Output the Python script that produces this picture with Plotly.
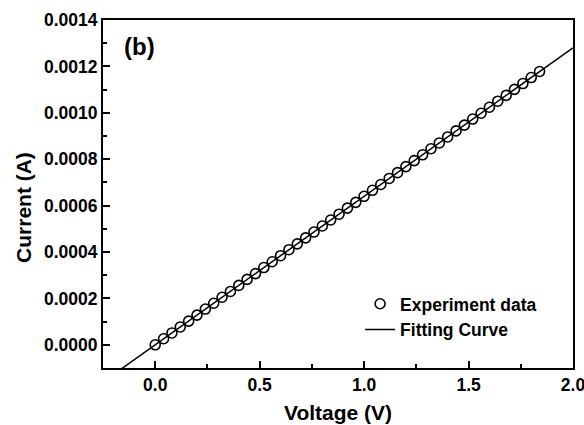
import plotly.graph_objects as go

# Experiment data
voltage = [0.00, 0.04, 0.08, 0.12, 0.16, 0.20, 0.24, 0.28, 0.32, 0.36,
           0.40, 0.44, 0.48, 0.52, 0.56, 0.60, 0.64, 0.68, 0.72, 0.76,
           0.80, 0.84, 0.88, 0.92, 0.96, 1.00, 1.04, 1.08, 1.12, 1.16,
           1.20, 1.24, 1.28, 1.32, 1.36, 1.40, 1.44, 1.48, 1.52, 1.56,
           1.60, 1.64, 1.68, 1.72, 1.76, 1.80, 1.84]
current_uA = [0, 26, 51, 77, 102, 128, 154, 179, 205, 230,
              256, 282, 307, 333, 358, 384, 410, 435, 461, 486,
              512, 538, 563, 589, 614, 640, 666, 691, 717, 742,
              768, 794, 819, 845, 870, 896, 922, 947, 973, 998,
              1024, 1050, 1075, 1101, 1126, 1152, 1178]
current = [c * 1e-6 for c in current_uA]

# Fitting curve (linear, through origin)
fit_slope = 0.00064
fit_x = [-0.25, 2.0]
fit_y = [fit_slope * v for v in fit_x]

x_ticks = [0.0, 0.5, 1.0, 1.5, 2.0]
y_ticks = [0.0000, 0.0002, 0.0004, 0.0006, 0.0008, 0.0010, 0.0012, 0.0014]

FONT = "Liberation Sans"

fig = go.Figure()
fig.add_trace(go.Scatter(
    x=voltage, y=current, mode="markers", name="Experiment data",
    marker=dict(symbol="circle", size=10, color="white",
                line=dict(color="black", width=1.6)),
))
fig.add_trace(go.Scatter(
    x=fit_x, y=fit_y, mode="lines", name="Fitting Curve",
    line=dict(color="black", width=1.5),
))

axis_common = dict(
    showline=True, linecolor="black", linewidth=2, mirror=True,
    ticks="inside", ticklen=7, tickwidth=1.5, tickcolor="black",
    showgrid=False, zeroline=False, automargin=False,
    ticklabeloverflow="allow",
    tickfont=dict(family=FONT, size=17.5, color="black", weight="bold"),
)

fig.update_xaxes(
    range=[-0.25, 2.0], tickvals=x_ticks, tickformat=".1f",
    title=dict(text="<b>Voltage (V)</b>", font=dict(family=FONT, size=21, color="black"), standoff=11),
    minor=dict(ticks="inside", ticklen=4, tickwidth=1.5, tickcolor="black", dtick=0.25, tick0=0, showgrid=False),
    **axis_common,
)
fig.update_yaxes(
    range=[-0.0001, 0.0014], tickvals=y_ticks, tickformat=".4f",
    minor=dict(ticks="inside", ticklen=4, tickwidth=1.5, tickcolor="black", dtick=0.0001, tick0=0, showgrid=False),
    **axis_common,
)

# y-axis title placed as rotated text
fig.add_annotation(
    x=-0.168, y=0.46, xref="paper", yref="paper", xanchor="center", yanchor="middle",
    text="<b>Current (A)</b>", textangle=-90, showarrow=False,
    font=dict(family=FONT, size=21, color="black"),
)

fig.add_annotation(
    x=0.04, y=0.925, xref="paper", yref="paper", xanchor="left", yanchor="middle",
    text="<b>(b)</b>", showarrow=False, font=dict(family=FONT, size=24, color="black"),
)

fig.update_layout(
    width=584, height=425,
    margin=dict(l=103, r=11, t=20, b=57),
    paper_bgcolor="white", plot_bgcolor="white",
    showlegend=True,
    legend=dict(
        x=0.547, y=0.236, xanchor="left", yanchor="top",
        bgcolor="rgba(0,0,0,0)", borderwidth=0,
        font=dict(family=FONT, size=17.5, color="black", weight="bold"),
        tracegroupgap=0, itemwidth=30,
    ),
)

fig.write_html("out.html")
